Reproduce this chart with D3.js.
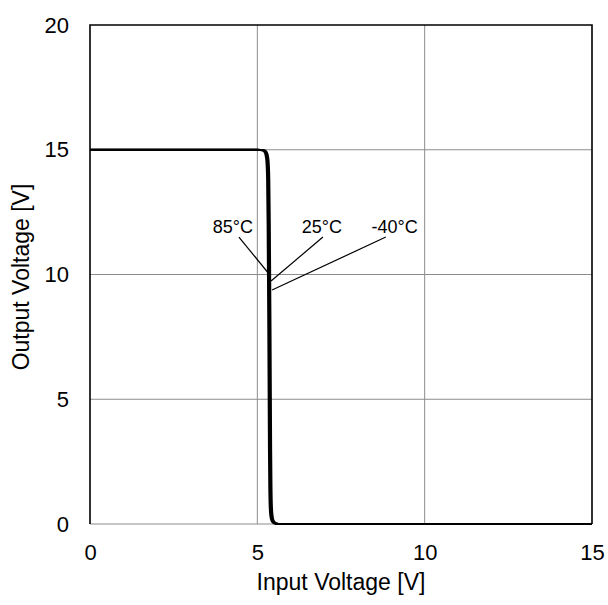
<!DOCTYPE html>
<html>
<head>
<meta charset="utf-8">
<script src="https://cdn.jsdelivr.net/npm/d3@7"></script>
<style>
  body { margin: 0; background: #fff; }
  text { font-family: "Liberation Sans", Arial, sans-serif; fill: #000; }
</style>
</head>
<body>
<svg id="chart" width="608" height="605"></svg>
<script>
// ---- data ----
const xTicks = [0, 5, 10, 15];
const yTicks = [0, 5, 10, 15, 20];
const xTitle = "Input Voltage [V]";
const yTitle = "Output Voltage [V]";

// Vin [V]
const vin85 = [0, 5.0, 5.15, 5.22, 5.26, 5.28, 5.295, 5.31, 5.33, 5.35, 5.36, 5.37, 5.39, 5.43, 5.50, 5.60, 15];
const vout85 = [15, 15, 14.98, 14.9, 14.7, 14.4, 13.8, 12, 8, 3, 1.5, 0.8, 0.35, 0.12, 0.03, 0, 0];

const vin25 = [0, 5.0, 5.18, 5.25, 5.29, 5.31, 5.325, 5.34, 5.36, 5.38, 5.39, 5.40, 5.42, 5.46, 5.53, 5.63, 15];
const vout25 = [15, 15, 14.98, 14.9, 14.7, 14.4, 13.8, 12, 8, 3, 1.5, 0.8, 0.35, 0.12, 0.03, 0, 0];

const vin40 = [0, 5.0, 5.21, 5.28, 5.32, 5.34, 5.355, 5.37, 5.39, 5.41, 5.42, 5.43, 5.45, 5.49, 5.56, 5.66, 15];
const vout40 = [15, 15, 14.98, 14.9, 14.7, 14.4, 13.8, 12, 8, 3, 1.5, 0.8, 0.35, 0.12, 0.03, 0, 0];

// annotation labels: text, label anchor (x,y) and leader line from (x1,y1) to (x2,y2), in data units
const annNames = ["85°C", "25°C", "-40°C"];
const annTextX = [4.27, 6.93, 9.10];
const annTextY = [11.65, 11.65, 11.65];
const annX1 = [4.45, 6.96, 8.84];
const annY1 = [11.5, 11.5, 11.5];
const annX2 = [5.35, 5.41, 5.44];
const annY2 = [10.02, 9.74, 9.38];

// ---- layout ----
const svg = d3.select("#chart");
const L = 90, R = 592, T = 25, B = 524;
const x = d3.scaleLinear().domain([0, 15]).range([L, R]);
const y = d3.scaleLinear().domain([0, 20]).range([B, T]);

// grid
const g = svg.append("g");
g.selectAll(".gx").data(xTicks.filter(d => d > 0 && d < 15)).join("line")
  .attr("x1", d => x(d)).attr("x2", d => x(d)).attr("y1", T).attr("y2", B)
  .attr("stroke", "#8c8c8c").attr("stroke-width", 1);
g.selectAll(".gy").data(yTicks.filter(d => d < 20)).join("line")
  .attr("y1", d => y(d)).attr("y2", d => y(d)).attr("x1", L).attr("x2", R)
  .attr("stroke", "#8c8c8c").attr("stroke-width", 1);

// frame (left, top, right)
svg.append("path")
  .attr("d", `M${L},${B}V${T}H${R}V${B}`)
  .attr("fill", "none").attr("stroke", "#000").attr("stroke-width", 1.6);

// axes (labels only)
const FS = 22;
const FT = 23;
const xAxis = d3.axisBottom(x).tickValues(xTicks).tickSize(0).tickPadding(20).tickFormat(d3.format("d"));
const ax = svg.append("g").attr("transform", `translate(0,${B})`).call(xAxis);
ax.select(".domain").remove();
ax.selectAll("text").attr("font-size", FS).attr("font-family", "Liberation Sans, Arial, sans-serif");

const yAxis = d3.axisLeft(y).tickValues(yTicks).tickSize(0).tickPadding(21).tickFormat(d3.format("d"));
const ay = svg.append("g").attr("transform", `translate(${L},0)`).call(yAxis);
ay.select(".domain").remove();
ay.selectAll("text").attr("font-size", FS).attr("font-family", "Liberation Sans, Arial, sans-serif");

// titles
svg.append("text").attr("x", 341).attr("y", 590).attr("text-anchor", "middle")
  .attr("font-size", FT).text(xTitle);
svg.append("text").attr("transform", `translate(29,277) rotate(-90)`)
  .attr("text-anchor", "middle").attr("font-size", FT).text(yTitle);

// curves
const line = d3.line().x(d => x(d[0])).y(d => y(d[1])).curve(d3.curveMonotoneX);
const series = [
  d3.zip(vin85, vout85),
  d3.zip(vin25, vout25),
  d3.zip(vin40, vout40)
];
svg.append("g").selectAll("path").data(series).join("path")
  .attr("d", d => line(d))
  .attr("fill", "none").attr("stroke", "#000").attr("stroke-width", 2.2);

// annotations
const ann = d3.range(annNames.length);
svg.append("g").selectAll("line").data(ann).join("line")
  .attr("x1", i => x(annX1[i])).attr("y1", i => y(annY1[i]))
  .attr("x2", i => x(annX2[i])).attr("y2", i => y(annY2[i]))
  .attr("stroke", "#000").attr("stroke-width", 1.2);
svg.append("g").selectAll("text").data(ann).join("text")
  .attr("x", i => x(annTextX[i])).attr("y", i => y(annTextY[i]))
  .attr("text-anchor", "middle").attr("font-size", 18)
  .text(i => annNames[i]);
</script>
</body>
</html>
